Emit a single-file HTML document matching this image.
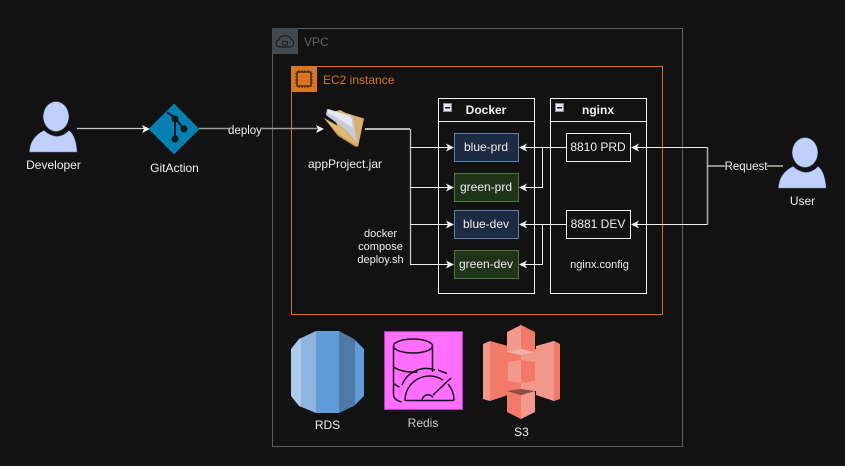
<!DOCTYPE html>
<html><head><meta charset="utf-8">
<style>
html,body{margin:0;padding:0;background:#121212;width:845px;height:466px;overflow:hidden}
svg{display:block}
text{font-family:"Liberation Sans",sans-serif;font-size:12px;fill:#f0f0f0;text-anchor:middle}
</style></head><body>
<svg width="845" height="466" viewBox="0 0 845 466" xmlns="http://www.w3.org/2000/svg">
<defs>
<clipPath id="rds"><path d="M291 349L299 339L316 331H339L354 339L364 349V396L354 406L339 413H316L299 406L291 396z"/></clipPath>
</defs>
<rect width="845" height="466" fill="#121212"/>
<!-- VPC -->
<rect x="272.500" y="28.500" width="410" height="418" fill="none" stroke="#5a5e62"/>
<rect x="272" y="28" width="26" height="26" fill="#44494d"/>
<path d="M280 47h10a4 4 0 0 0 1.500-7.500a5.500 5.500 0 0 0-6-3.500a5.500 5.500 0 0 0-7 4a3.600 3.600 0 0 0 1.500 7z" fill="none" stroke="#15181a" stroke-width="1"/>
<rect x="282.500" y="41.500" width="5" height="3.500" fill="none" stroke="#15181a" stroke-width="0.800"/>
<text x="304" y="46" style="text-anchor:start;fill:#5f6468">VPC</text>
<!-- EC2 -->
<rect x="291.500" y="66.500" width="371" height="248" fill="none" stroke="#d9721e"/>
<rect x="291" y="66" width="26" height="26" fill="#d9761f"/>
<rect x="297" y="72" width="14" height="14" fill="none" stroke="#2a1a0c" stroke-width="1.200"/>
<path d="M299 70v2M302 70v2M305 70v2M308 70v2M299 86v2M302 86v2M305 86v2M308 86v2M295 74h2M295 77h2M295 80h2M295 83h2M311 74h2M311 77h2M311 80h2M311 83h2" stroke="#2a1a0c" stroke-width="0.800"/>
<text x="323" y="84" style="text-anchor:start;fill:#d9761f">EC2 instance</text>
<!-- Docker -->
<rect x="438.500" y="98.500" width="96" height="195" fill="#121212" stroke="#f0f0f0"/>
<line x1="438.500" y1="121.500" x2="534.500" y2="121.500" stroke="#f0f0f0"/>
<rect x="443.500" y="103.500" width="8" height="8" fill="#e8e8ee" stroke="#8a8f9c"/>
<rect x="445" y="107" width="5" height="1.500" fill="#222"/>
<text x="486" y="114" font-weight="bold">Docker</text>
<!-- nginx -->
<rect x="550.500" y="98.500" width="96" height="195" fill="#121212" stroke="#f0f0f0"/>
<line x1="550.500" y1="121.500" x2="646.500" y2="121.500" stroke="#f0f0f0"/>
<rect x="555.500" y="103.500" width="8" height="8" fill="#e8e8ee" stroke="#8a8f9c"/>
<rect x="557" y="107" width="5" height="1.500" fill="#222"/>
<text x="598" y="114" font-weight="bold">nginx</text>
<!-- containers -->
<rect x="454.500" y="133.500" width="64" height="28" fill="#1d2b42" stroke="#5b7fb0"/>
<text x="486" y="151">blue-prd</text>
<rect x="454.500" y="173.500" width="64" height="28" fill="#1f3319" stroke="#4e7a37"/>
<text x="486" y="191">green-prd</text>
<rect x="454.500" y="210.500" width="64" height="28" fill="#1d2b42" stroke="#5b7fb0"/>
<text x="486" y="228">blue-dev</text>
<rect x="454.500" y="250.500" width="64" height="28" fill="#1f3319" stroke="#4e7a37"/>
<text x="486" y="268">green-dev</text>
<rect x="566.500" y="133.500" width="64" height="28" fill="#121212" stroke="#f0f0f0"/>
<text x="598" y="151">8810 PRD</text>
<rect x="566.500" y="210.500" width="64" height="28" fill="#121212" stroke="#f0f0f0"/>
<text x="598" y="228">8881 DEV</text>
<text x="599.500" y="268" style="font-size:11px">nginx.config</text>
<!-- connectors -->
<g fill="none" stroke="#f0f0f0" stroke-width="1">
<path d="M77 128.500H144" stroke="#c8c8c8" stroke-width="1.300"/>
<path d="M199 128.500H318" stroke="#9a9a9a" stroke-width="1.500"/>
<path d="M365 129H410" stroke-width="1.500"/>
<path d="M410.500 129V264" stroke="#c4c4c4" stroke-width="1.300"/>
<path d="M410 147.500H448M410 187.500H448M410 224.500H448M410 264.500H448"/>
<path d="M566 147.500H524M542.500 147.500V187.500H524M566 224.500H524M542.500 224.500V264.500H524"/>
<path d="M707.500 147.500H636M707.500 224.500H636"/>
<path d="M707.500 147V225" stroke="#b0b0b0" stroke-width="1.500"/>
<path d="M707.500 166H783" stroke="#d8d8d8" stroke-width="1.200"/>
</g>
<g fill="#f0f0f0">
<path d="M150 129l-8-4 2 4-2 4z"/>
<path d="M324 129l-8-4 2 4-2 4z"/>
<path d="M454 147.500l-8-4 2 4-2 4z"/><path d="M454 187.500l-8-4 2 4-2 4z"/><path d="M454 224.500l-8-4 2 4-2 4z"/><path d="M454 264.500l-8-4 2 4-2 4z"/>
<path d="M519 147.500l8-4-2 4 2 4z"/><path d="M519 187.500l8-4-2 4 2 4z"/><path d="M519 224.500l8-4-2 4 2 4z"/><path d="M519 264.500l8-4-2 4 2 4z"/>
<path d="M631 147.500l8-4-2 4 2 4z"/><path d="M631 224.500l8-4-2 4 2 4z"/>
</g>
<!-- labels on lines -->
<rect x="229" y="124" width="33" height="13" fill="#121212"/>
<text x="245" y="134" style="font-size:11.500px">deploy</text>
<rect x="725" y="159" width="42" height="14" fill="#121212"/>
<text x="746" y="170" style="font-size:11.500px">Request</text>
<text x="380.500" y="237" style="font-size:11px">docker</text>
<text x="380.500" y="250" style="font-size:11px">compose</text>
<text x="380.500" y="263" style="font-size:11px">deploy.sh</text>
<!-- Developer -->
<g fill="#bfd0fb" stroke="#6b7fb8" stroke-width="0.500">
<ellipse cx="56" cy="116.500" rx="12.700" ry="14.800"/>
<path d="M29.500 152C30 142 35 135 44 130.500Q50 136 57 136.500Q64 136 69 130.500C74 134 76.500 143 77 152z"/>
</g>
<text x="53.500" y="169">Developer</text>
<!-- Git -->
<path d="M174 105l24 24-24 24-24-24z" fill="#0580b0" stroke="#0580b0" stroke-width="2" stroke-linejoin="round"/>
<path d="M167 112l8 6M175 118V139M175 118l9 11" stroke="#101820" stroke-width="2" fill="none"/>
<circle cx="175" cy="119" r="3.500" fill="#101820"/><circle cx="184" cy="129" r="3.600" fill="#101820"/><circle cx="175" cy="139" r="3.600" fill="#101820"/>
<text x="174.500" y="172">GitAction</text>
<!-- Folder -->
<path d="M333 112L340 110L346 113L364 118.500L358 147L340 135z" fill="#d9b06a"/>
<path d="M324 118L346 131L357 146L356 147L338 136z" fill="#c49453"/>
<path d="M324 118L345 130L357 146L338 134L331 126z" fill="#e0b974"/>
<path d="M327 109L353 117L357 143L346 130L326 115z" fill="#c6cbdc"/>
<path d="M328 109L351 116L353 128L344 122L328 113z" fill="#e4e6f0"/>
<text x="345" y="168">appProject.jar</text>
<!-- User -->
<g transform="translate(749,36)" fill="#bfd0fb" stroke="#6b7fb8" stroke-width="0.500">
<ellipse cx="56" cy="116.500" rx="12.700" ry="14.800"/>
<path d="M29.500 152C30 142 35 135 44 130.500Q50 136 57 136.500Q64 136 69 130.500C74 134 76.500 143 77 152z"/>
</g>
<text x="802.500" y="205">User</text>
<!-- RDS -->
<g clip-path="url(#rds)">
<rect x="291" y="331" width="10" height="82" fill="#aecbe9"/>
<rect x="301" y="331" width="15" height="82" fill="#8fb4e0"/>
<rect x="316" y="331" width="23" height="82" fill="#5f9bd6"/>
<rect x="339" y="331" width="16" height="82" fill="#4f7aa5"/>
<rect x="355" y="331" width="9" height="82" fill="#5f9bd6"/>
</g>
<text x="327.500" y="429">RDS</text>
<!-- Redis -->
<rect x="384.500" y="331.500" width="78" height="78" fill="#ff6eff" stroke="#a83fb0"/>
<g fill="none" stroke="#1a0f1e" stroke-width="1.500">
<ellipse cx="413" cy="346" rx="19.500" ry="7"/>
<path d="M393.500 346V394q0 6 8 8M432.500 346V372M393.500 367q9 6 24 5M393.500 383q3 3 6 4"/>
<path d="M405 400.500H454M405 400.500a24.500 24.500 0 0 1 38-20.500M448 384a24.500 24.500 0 0 1 6 16.500"/>
<path d="M402 385a26 26 0 0 1 33-15M438 370l9 3.500"/>
<path d="M433 395l18-17M422 400.500a6 6 0 0 1 11-3"/>
</g>
<text x="423" y="427" style="fill:#c9cdd1">Redis</text>
<!-- S3 -->
<path d="M490 341L508 346V395L490 401z" fill="#f27a68"/>
<path d="M483 344L490 341V401L483 399z" fill="#f2998c"/>
<path d="M536 346L554 341V401L536 395z" fill="#f2998c"/>
<path d="M554 341L560 344V399L554 401z" fill="#f27a68"/>
<rect x="507" y="349" width="14" height="42" fill="#f27a68"/>
<rect x="521" y="349" width="15" height="42" fill="#f2998c"/>
<path d="M507 332L521 325V349L507 352z" fill="#f2998c"/>
<path d="M521 325L535 332V352L521 349z" fill="#f27a68"/>
<path d="M507 352L521 349L535 352L521 355z" fill="#f4b0a4"/>
<path d="M508 362L521 360V383L508 381z" fill="#f2998c"/>
<path d="M521 360L535 362V381L521 383z" fill="#f27a68"/>
<path d="M507 391L521 389L535 391L521 395z" fill="#8a4f45"/>
<path d="M507 391L521 395V419L507 412z" fill="#f27a68"/>
<path d="M535 391L521 395V419L535 412z" fill="#f2998c"/>
<text x="521.500" y="436">S3</text>
</svg>
</body></html>
